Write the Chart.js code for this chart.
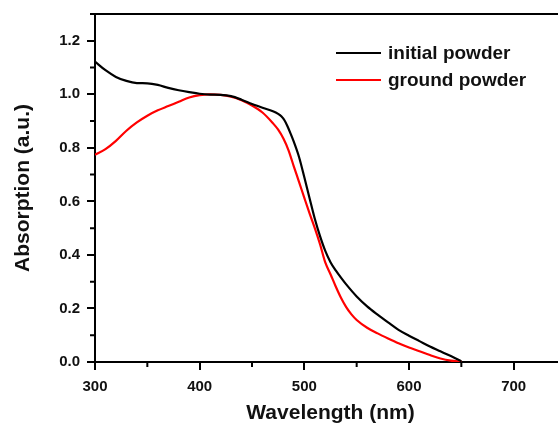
<html>
<head>
<style>
  html, body { margin: 0; padding: 0; background: #fff; overflow: hidden; }
  #wrap { width: 580px; height: 430px; }
</style>
</head>
<body>
<script src="https://cdn.jsdelivr.net/npm/chart.js@4/dist/chart.umd.min.js"></script>
<div id="wrap"><canvas id="myChart" width="580" height="430"></canvas></div>
<script>
// absorption spectra, wavelength in nm
const initialNm = [300, 310, 320, 330, 340, 350, 360, 370, 380, 390, 400, 410, 420, 430, 440, 450, 460, 470, 475, 478, 481, 484, 487, 490, 495, 500, 505, 510, 515, 520, 525, 530, 535, 540, 550, 560, 570, 580, 590, 600, 610, 620, 630, 640, 650];
const initialAbs = [1.122, 1.09, 1.065, 1.05, 1.042, 1.041, 1.035, 1.024, 1.015, 1.008, 1.002, 0.999, 0.998, 0.993, 0.98, 0.964, 0.95, 0.937, 0.927, 0.918, 0.903, 0.88, 0.852, 0.822, 0.765, 0.69, 0.612, 0.535, 0.47, 0.415, 0.373, 0.342, 0.315, 0.29, 0.245, 0.208, 0.177, 0.148, 0.12, 0.098, 0.078, 0.058, 0.04, 0.022, 0.003];

const groundNm = [300, 310, 320, 330, 340, 350, 360, 370, 380, 390, 400, 410, 420, 430, 440, 450, 460, 470, 475, 480, 485, 490, 495, 500, 505, 510, 515, 520, 525, 530, 535, 540, 545, 550, 560, 570, 580, 590, 600, 610, 620, 630, 640, 650];
const groundAbs = [0.774, 0.795, 0.826, 0.864, 0.895, 0.92, 0.94, 0.956, 0.972, 0.988, 0.997, 1.0, 0.998, 0.991, 0.978, 0.958, 0.932, 0.892, 0.868, 0.835, 0.79, 0.73, 0.672, 0.613, 0.555, 0.5, 0.44, 0.372, 0.328, 0.282, 0.24, 0.205, 0.178, 0.157, 0.128, 0.107, 0.088, 0.07, 0.054, 0.04, 0.026, 0.013, 0.005, 0.002];

const seriesNames = ['initial powder', 'ground powder'];
const seriesColors = ['#000000', '#ff0000'];

const xTicks = [300, 400, 500, 600, 700];
const yTicks = [0.0, 0.2, 0.4, 0.6, 0.8, 1.0, 1.2];

const FONT = 'Liberation Sans, Arial, sans-serif';

function toPoints(xs, ys) {
    return xs.map((x, i) => ({ x: x, y: ys[i] }));
}

// minor ticks, top border and the legend box
const extras = {
    id: 'extras',
    afterDraw(chart) {
        const c = chart.ctx;
        const a = chart.chartArea;
        const xs = chart.scales.x, ys = chart.scales.y;
        c.save();
        c.strokeStyle = '#000';
        c.lineWidth = 2;
        c.beginPath();
        c.moveTo(a.left - 1, a.top);
        c.lineTo(a.right, a.top);
        c.stroke();
        c.beginPath();
        for (let v = 350; v <= 750; v += 100) {
            const px = xs.getPixelForValue(v);
            c.moveTo(px, a.bottom);
            c.lineTo(px, a.bottom + 5);
        }
        for (let v = 0.1; v < 1.3; v += 0.2) {
            const py = ys.getPixelForValue(v);
            c.moveTo(a.left, py);
            c.lineTo(a.left - 5, py);
        }
        c.stroke();

        c.font = 'bold 19px ' + FONT;
        c.textBaseline = 'middle';
        c.fillStyle = '#111';
        chart.data.datasets.forEach((ds, i) => {
            const y = 53 + i * 27;
            c.strokeStyle = ds.borderColor;
            c.beginPath();
            c.moveTo(336, y);
            c.lineTo(381, y);
            c.stroke();
            c.fillText(ds.label, 388, y + 1);
        });
        c.restore();
    }
};

const ctx = document.getElementById('myChart').getContext('2d');
const myChart = new Chart(ctx, {
    type: 'line',
    data: {
        datasets: [{
            label: seriesNames[0],
            data: toPoints(initialNm, initialAbs),
            borderColor: seriesColors[0],
            borderWidth: 2.2,
            pointRadius: 0,
            cubicInterpolationMode: 'monotone'
        }, {
            label: seriesNames[1],
            data: toPoints(groundNm, groundAbs),
            borderColor: seriesColors[1],
            borderWidth: 2.2,
            pointRadius: 0,
            cubicInterpolationMode: 'monotone'
        }]
    },
    options: {
        responsive: false,
        animation: false,
        layout: { padding: { left: 0, top: 14, right: 14, bottom: 0 } },
        plugins: { legend: { display: false }, tooltip: { enabled: false } },
        scales: {
            x: {
                type: 'linear',
                min: 300,
                max: 750,
                afterBuildTicks: s => { s.ticks = xTicks.map(v => ({ value: v })); },
                afterFit: s => { s.height = 68; s.paddingLeft = 0; s.paddingRight = 0; },
                border: { color: '#000', width: 2 },
                grid: { drawOnChartArea: false, color: '#000', lineWidth: 2, tickLength: 8 },
                ticks: {
                    color: '#111',
                    padding: 8,
                    maxRotation: 0,
                    font: { family: FONT, size: 15, weight: 'bold' }
                },
                title: {
                    display: true,
                    text: 'Wavelength (nm)',
                    color: '#111',
                    padding: { top: 4, bottom: 4 },
                    font: { family: FONT, size: 21, weight: 'bold' }
                }
            },
            y: {
                min: 0,
                max: 1.3,
                afterBuildTicks: s => { s.ticks = yTicks.map(v => ({ value: v })); },
                afterFit: s => { s.width = 95; s.paddingTop = 0; s.paddingBottom = 0; },
                border: { color: '#000', width: 2 },
                grid: { drawOnChartArea: false, color: '#000', lineWidth: 2, tickLength: 8 },
                ticks: {
                    color: '#111',
                    padding: 7,
                    callback: v => v.toFixed(1),
                    font: { family: FONT, size: 15, weight: 'bold' }
                },
                title: {
                    display: true,
                    text: 'Absorption (a.u.)',
                    color: '#111',
                    padding: { top: 11, bottom: 11 },
                    font: { family: FONT, size: 21, weight: 'bold' }
                }
            }
        }
    },
    plugins: [extras]
});
</script>
</body>
</html>
